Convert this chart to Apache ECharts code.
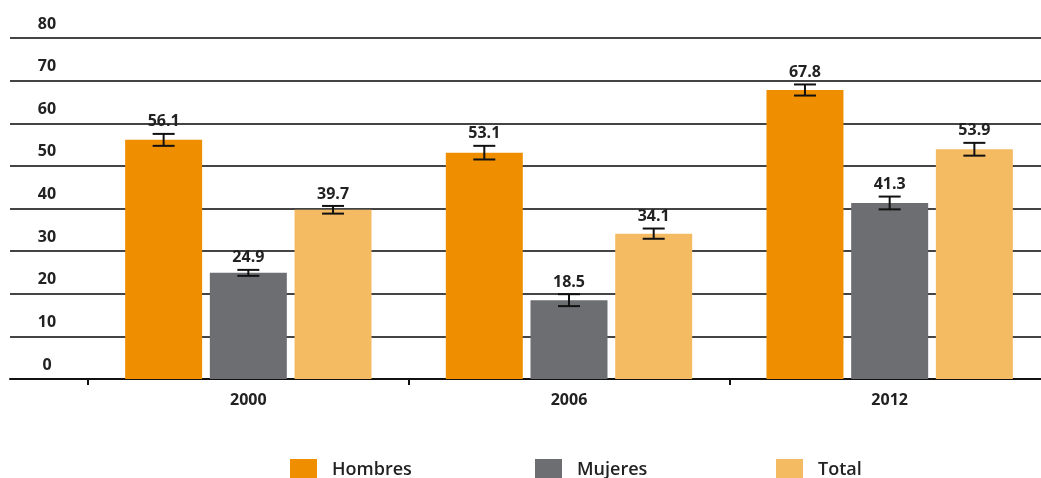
<!DOCTYPE html>
<html>
<head>
<meta charset="utf-8">
<script src="https://cdn.jsdelivr.net/npm/echarts@6/dist/echarts.min.js"></script>
<style>
html,body{margin:0;padding:0;background:#fff;}
#chart{width:1041px;height:478px;}
</style>
</head>
<body>
<div id="chart"></div>
<script>
var categories = ['2000', '2006', '2012'];
var seriesNames = ['Hombres', 'Mujeres', 'Total'];
var hombres = [56.1, 53.1, 67.8];
var mujeres = [24.9, 18.5, 41.3];
var total = [39.7, 34.1, 53.9];
var hombresErr = [1.4, 1.6, 1.3];
var mujeresErr = [0.7, 1.4, 1.5];
var totalErr = [0.9, 1.2, 1.5];
var yTicks = [0, 10, 20, 30, 40, 50, 60, 70, 80];

var colors = ['#EF8F00', '#6D6E71', '#F5BB63'];
var FONT = 'Open Sans';
var BAR_W = 77;
var GAP = 0.1;

var values = [hombres, mujeres, total];
var errs = [hombresErr, mujeresErr, totalErr];

var chart = echarts.init(document.getElementById('chart'));

function errorSeries(idx) {
  var data = values[idx].map(function (v, i) { return [i, v, errs[idx][i]]; });
  return {
    type: 'custom',
    xAxisIndex: 1,
    yAxisIndex: 1,
    z: 10,
    silent: true,
    data: data,
    renderItem: function (params, api) {
      var ci = api.value(0), v = api.value(1), e = api.value(2);
      var offset = (idx - 1) * BAR_W * (1 + GAP);
      var hi = api.coord([ci, v + e]);
      var lo = api.coord([ci, v - e]);
      var x = hi[0] + offset;
      var cap = 11;
      var style = { stroke: '#111', lineWidth: 2 };
      return {
        type: 'group',
        children: [
          { type: 'line', shape: { x1: x, y1: hi[1], x2: x, y2: lo[1] }, style: style },
          { type: 'line', shape: { x1: x - cap, y1: hi[1], x2: x + cap, y2: hi[1] }, style: style },
          { type: 'line', shape: { x1: x - cap, y1: lo[1], x2: x + cap, y2: lo[1] }, style: style },
          { type: 'text', x: x, y: hi[1] - 4,
            style: { text: v.toFixed(1), fill: '#222', font: 'bold 16px "' + FONT + '"',
                     textAlign: 'center', textVerticalAlign: 'bottom' } }
        ]
      };
    }
  };
}

var barSeries = seriesNames.map(function (name, idx) {
  return {
    name: name,
    type: 'bar',
    xAxisIndex: 1,
    yAxisIndex: 1,
    barWidth: BAR_W,
    barGap: (GAP * 100) + '%',
    itemStyle: { color: colors[idx] },
    data: values[idx]
  };
});

var legendLefts = [285, 530, 771];
var legends = seriesNames.map(function (name, idx) {
  return {
    left: legendLefts[idx], top: 454,
    itemWidth: 27, itemHeight: 22,
    icon: 'rect',
    textStyle: { color: '#222', fontFamily: FONT, fontWeight: 600, fontSize: 18,
                 padding: [0, 0, 0, 10] },
    data: [name]
  };
});

var option = {
  animation: false,
  color: colors,
  grid: [
    { left: 10, right: 0, top: 38, bottom: 99 },
    { left: 88, width: 962, top: 38, bottom: 99, outerBoundsMode: 'none', containLabel: false }
  ],
  xAxis: [
    { gridIndex: 0, type: 'value', min: 0, max: 1,
      axisLine: { show: true, lineStyle: { color: '#111', width: 2 } },
      axisTick: { show: false }, axisLabel: { show: false }, splitLine: { show: false } },
    { gridIndex: 1, type: 'category', data: categories,
      axisLine: { show: true, lineStyle: { color: '#111', width: 2 } },
      axisTick: { show: true, length: 6, lineStyle: { color: '#111', width: 2 } },
      axisLabel: { color: '#222', fontFamily: FONT, fontWeight: 'bold', fontSize: 16, margin: 13 },
      splitLine: { show: false } }
  ],
  yAxis: [
    { gridIndex: 0, type: 'value', min: yTicks[0], max: yTicks[yTicks.length - 1], interval: 10,
      axisLine: { show: false }, axisTick: { show: false },
      axisLabel: { inside: true, margin: 37, align: 'center', verticalAlign: 'bottom',
                   padding: [0, 0, 6, 0],
                   color: '#222', fontFamily: FONT, fontWeight: 'bold', fontSize: 16 },
      splitLine: { show: true, lineStyle: { color: '#444', width: 2 } } },
    { gridIndex: 1, type: 'value', min: yTicks[0], max: yTicks[yTicks.length - 1], interval: 10,
      show: false }
  ],
  legend: legends,
  series: barSeries.concat([errorSeries(0), errorSeries(1), errorSeries(2)])
};
chart.setOption(option);
</script>
</body>
</html>
